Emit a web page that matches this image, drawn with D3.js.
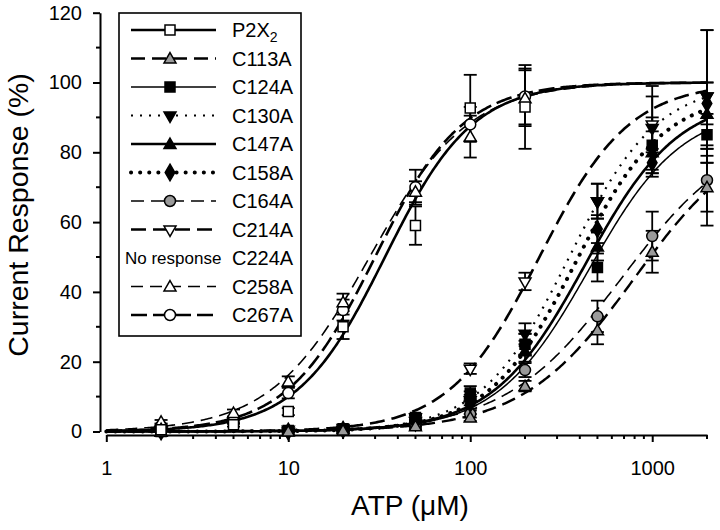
<!DOCTYPE html>
<html><head><meta charset="utf-8">
<script src="https://cdn.jsdelivr.net/npm/d3@7"></script>
<style>body{margin:0;background:#fff}</style>
</head><body>
<svg id="c" width="720" height="530"></svg>
<script>
// ---------- data ----------
const seriesNames = ["P2X2","C113A","C124A","C130A","C147A","C158A","C164A","C214A","C258A","C267A"];
const concLeft  = [2, 5, 10, 20, 50, 100, 200];
const concRight = [2, 10, 20, 50, 100, 200, 500, 1000, 2000];

const respP2X2  = [0.5, 1.9, 5.7, 30, 59, 92.7, 93];
const errP2X2   = [0.3, 0.5, 1, 3.5, 5.5, 9.5, 12];
const respC258A = [2.8, 5.3, 14.3, 37, 68.7, 84.5, 95.5];
const errC258A  = [0.5, 1, 1.5, 2.5, 3, 6, 8];
const respC267A = [1.5, 3, 11, 34.8, 70, 88, 96];
const errC267A  = [0.5, 0.8, 1.5, 3, 5, 5, 8];

const respC124A = [0, 0.3, 0.8, 4, 11, 25, 47, 82, 85];
const errC124A  = [0, 0.3, 0.5, 1, 2, 3, 4, 8, 6];
const respC130A = [0, 0, 0.5, 3, 9, 28, 66, 87, 96];
const errC130A  = [0, 0.3, 0.5, 1, 1.5, 3, 5, 12, 19];
const respC147A = [0, 0.3, 0.8, 3.5, 10, 23, 53, 80, 91];
const errC147A  = [0, 0.3, 0.5, 1, 1.5, 3, 4, 6, 9];
const respC158A = [0, 0, 0.5, 2.5, 8, 25, 58, 77, 94];
const errC158A  = [0, 0.3, 0.5, 1, 1.5, 3, 4, 4, 6];
const respC164A = [0, 0.2, 0.5, 2, 5, 17.6, 33, 56, 72];
const errC164A  = [0, 0.3, 0.5, 1, 1, 2, 4.5, 7, 9];
const respC113A = [0, 0, 0.3, 1.5, 4, 13, 29, 51.5, 70];
const errC113A  = [0, 0.3, 0.5, 1, 1, 1.5, 4, 6, 11];
const respC214A = [0.5, 0.5, 1, 4, 18, 43, 66, 88, 96];
const errC214A  = [0, 0.3, 0.5, 1, 1.5, 2.5, 5, 8, 19];

// Hill-fit parameters per series (same order as seriesNames)
const ec50  = [34, 800, 450, 350, 430, 380, 680, 240, 28, 30];
const hillN = [1.8, 1.4, 1.7, 1.8, 1.7, 1.8, 1.35, 1.75, 1.6, 1.8];
const emax  = [100, 88, 93, 100, 96, 97, 88, 100, 100, 100];

const yTicks = [0, 20, 40, 60, 80, 100, 120];
const yMinor = [10, 30, 50, 70, 90, 110];
const xTicks = [1, 10, 100, 1000];
const xMinor = [2,3,4,5,6,7,8,9,20,30,40,50,60,70,80,90,200,300,400,500,600,700,800,900,2000];

// ---------- build ----------
const FONT = "'Liberation Sans', Arial, Helvetica, sans-serif";
const svg = d3.select("#c");
const x = d3.scaleLog().domain([1, 2000]).range([106.3, 707]);
const y = d3.scaleLinear().domain([0, 120]).range([431.5, 12.7]);

const series = [
  {name: "P2X2",  conc: concLeft,  resp: respP2X2,  err: errP2X2,  sym: "square",   fill: "#fff", dash: null,     w: 2.6},
  {name: "C113A", conc: concRight, resp: respC113A, err: errC113A, sym: "triangle", fill: "#9a9a9a", dash: "14,7", w: 2.4},
  {name: "C124A", conc: concRight, resp: respC124A, err: errC124A, sym: "square",   fill: "#000", dash: null,     w: 1.5},
  {name: "C130A", conc: concRight, resp: respC130A, err: errC130A, sym: "tridown",  fill: "#000", dash: "2,7",    w: 2.2},
  {name: "C147A", conc: concRight, resp: respC147A, err: errC147A, sym: "triangle", fill: "#000", dash: null,     w: 2.6},
  {name: "C158A", conc: concRight, resp: respC158A, err: errC158A, sym: "diamond",  fill: "#000", dash: "0.1,9",  w: 4, cap: "round"},
  {name: "C164A", conc: concRight, resp: respC164A, err: errC164A, sym: "circle",   fill: "#9a9a9a", dash: "13,7", w: 1.6},
  {name: "C214A", conc: concRight, resp: respC214A, err: errC214A, sym: "tridown",  fill: "#fff", dash: "15,7",   w: 2.6},
  {name: "C258A", conc: concLeft,  resp: respC258A, err: errC258A, sym: "triangle", fill: "#fff", dash: "12,7",   w: 1.6},
  {name: "C267A", conc: concLeft,  resp: respC267A, err: errC267A, sym: "circle",   fill: "#fff", dash: "16,6",   w: 2.6}
];
series.forEach((s, i) => { s.ec = ec50[i]; s.n = hillN[i]; s.emax = emax[i]; });

function symPath(type) {
  if (type === "square")   return d3.symbol(d3.symbolSquare, 100)();
  if (type === "triangle") return d3.symbol(d3.symbolTriangle, 62)();
  if (type === "tridown")  return d3.symbol(d3.symbolTriangle, 62)();
  if (type === "diamond")  return d3.symbol(d3.symbolDiamond, 80)();
  return d3.symbol(d3.symbolCircle, 95)();
}
function drawMarker(g, s, cx, cy) {
  g.append("path").attr("d", symPath(s.sym))
    .attr("transform", `translate(${cx},${cy})` + (s.sym === "tridown" ? " rotate(180)" : (s.sym === "triangle" ? " translate(0,1)" : "")))
    .attr("fill", s.fill).attr("stroke", "#000").attr("stroke-width", 1.5);
}

// axes
const gy = svg.append("g").attr("transform", "translate(100,0)")
  .call(d3.axisLeft(y).tickValues(yTicks).tickSize(7).tickSizeOuter(0).tickPadding(11));
gy.attr("font-size", 20).attr("font-family", FONT);
gy.selectAll("line, path").attr("stroke", "#000").attr("stroke-width", 2);
gy.selectAll("text").attr("fill", "#000");
gy.selectAll(".minor").data(yMinor).enter().append("line")
  .attr("x1", -4).attr("x2", 0).attr("y1", d => y(d)).attr("y2", d => y(d))
  .attr("stroke", "#000").attr("stroke-width", 2);

const gx = svg.append("g").attr("transform", "translate(0,435)")
  .call(d3.axisBottom(x).tickValues(xTicks).tickFormat(d3.format("d")).tickSize(7).tickSizeOuter(0).tickPadding(19));
gx.attr("font-size", 20).attr("font-family", FONT);
gx.selectAll("line, path").attr("stroke", "#000").attr("stroke-width", 2);
gx.selectAll("text").attr("fill", "#000");
gx.selectAll(".minor").data(xMinor).enter().append("line")
  .attr("x1", d => x(d)).attr("x2", d => x(d)).attr("y1", 0).attr("y2", 4)
  .attr("stroke", "#000").attr("stroke-width", 2);

// axis titles
svg.append("text").attr("x", 410).attr("y", 515).attr("text-anchor", "middle")
  .attr("font-family", FONT).attr("font-size", 28).text("ATP (μM)");
svg.append("text").attr("transform", "translate(28,215) rotate(-90)").attr("text-anchor", "middle")
  .attr("font-family", FONT).attr("font-size", 28.5).text("Current Response (%)");

// fitted curves
const samples = d3.range(0, 400).map(i => Math.pow(10, i / 399 * Math.log10(2000)));
const line = d3.line().x(d => x(d[0])).y(d => y(d[1]));
const gc = svg.append("g");
series.forEach(s => {
  const pts = samples.map(c => [c, s.emax / (1 + Math.pow(s.ec / c, s.n))]);
  gc.append("path").attr("d", line(pts)).attr("fill", "none").attr("stroke", "#000")
    .attr("stroke-width", s.w).attr("stroke-dasharray", s.dash)
    .attr("stroke-linecap", s.cap || "butt");
});

// error bars
const ge = svg.append("g").attr("stroke", "#000").attr("stroke-width", 1.8);
series.forEach(s => {
  s.conc.forEach((c, j) => {
    const e = s.err[j]; if (!e) return;
    const cx = x(c), v = s.resp[j];
    const y1 = y(v + e), y2 = y(Math.max(v - e, -0.5));
    ge.append("line").attr("x1", cx).attr("x2", cx).attr("y1", y1).attr("y2", y2);
    ge.append("line").attr("x1", cx - 6.5).attr("x2", cx + 6.5).attr("y1", y1).attr("y2", y1);
    ge.append("line").attr("x1", cx - 6.5).attr("x2", cx + 6.5).attr("y1", y2).attr("y2", y2);
  });
});

// markers (drawn in reverse legend order so earlier series sit on top)
const gm = svg.append("g");
series.slice().reverse().forEach(s => s.conc.forEach((c, j) => drawMarker(gm, s, x(c), y(s.resp[j]))));

// legend
const lg = svg.append("g");
lg.append("rect").attr("x", 119).attr("y", 13).attr("width", 182).attr("height", 323)
  .attr("fill", "#fff").attr("stroke", "#000").attr("stroke-width", 1.6);
const legendRows = ["P2X2","C113A","C124A","C130A","C147A","C158A","C164A","C214A","C224A","C258A","C267A"];
legendRows.forEach((nm, k) => {
  const ry = 30 + k * 28.5;
  const txt = lg.append("text").attr("x", 232).attr("y", ry + 7).attr("font-family", FONT).attr("font-size", 20);
  if (nm === "P2X2") {
    txt.append("tspan").text("P2X");
    txt.append("tspan").attr("font-size", 14).attr("dy", 5).text("2");
  } else txt.text(nm);
  const s = series.find(d => d.name === nm);
  if (!s) {
    lg.append("text").attr("x", 125).attr("y", ry + 6).attr("font-family", FONT).attr("font-size", 17).text("No response");
    return;
  }
  lg.append("line").attr("x1", 131).attr("x2", 216).attr("y1", ry).attr("y2", ry)
    .attr("stroke", "#000").attr("stroke-width", s.w).attr("stroke-dasharray", s.dash)
    .attr("stroke-linecap", s.cap || "butt");
  drawMarker(lg, s, 170, ry);
});
</script>
</body></html>
